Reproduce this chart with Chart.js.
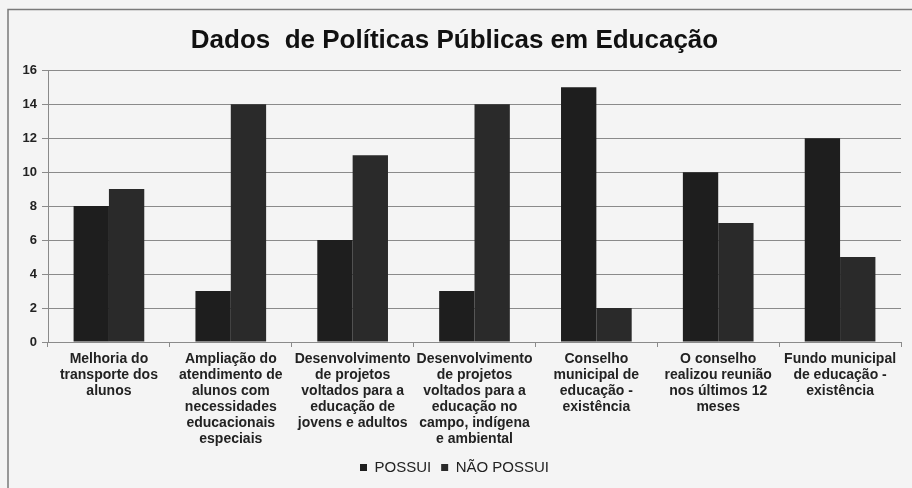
<!DOCTYPE html>
<html>
<head>
<meta charset="utf-8">
<script src="https://cdn.jsdelivr.net/npm/chart.js@4"></script>
<style>
  html, body { margin: 0; padding: 0; background: #f4f4f4; }
  #wrap { width: 912px; height: 488px; }
</style>
</head>
<body>
<div id="wrap"><canvas id="politicasChart" width="912" height="488"></canvas></div>
<script>
// Categorias e valores por série
const categorias = [
    ['Melhoria do', 'transporte dos', 'alunos'],
    ['Ampliação do', 'atendimento de', 'alunos com', 'necessidades', 'educacionais', 'especiais'],
    ['Desenvolvimento', 'de projetos', 'voltados para a', 'educação de', 'jovens e adultos'],
    ['Desenvolvimento', 'de projetos', 'voltados para a', 'educação no', 'campo, indígena', 'e ambiental'],
    ['Conselho', 'municipal de', 'educação -', 'existência'],
    ['O conselho', 'realizou reunião', 'nos últimos 12', 'meses'],
    ['Fundo municipal', 'de educação -', 'existência']
];
const possui = [8, 3, 6, 3, 15, 10, 12];
const naoPossui = [9, 14, 11, 14, 2, 7, 5];
const yTicks = [0, 2, 4, 6, 8, 10, 12, 14, 16];

// Fundo e moldura do gráfico
const moldura = {
    id: 'moldura',
    beforeDraw(chart) {
        const { ctx, width, height } = chart;
        ctx.save();
        ctx.fillStyle = '#f4f4f4';
        ctx.fillRect(0, 0, width, height);
        ctx.strokeStyle = '#7a7a7a';
        ctx.lineWidth = 1.5;
        ctx.beginPath();
        ctx.moveTo(8, height);
        ctx.lineTo(8, 9.5);
        ctx.lineTo(width, 9.5);
        ctx.stroke();
        ctx.restore();
    }
};

const ctx = document.getElementById('politicasChart').getContext('2d');
new Chart(ctx, {
    type: 'bar',
    data: {
        labels: categorias,
        datasets: [
            {
                label: 'POSSUI',
                data: possui,
                backgroundColor: '#1e1e1e',
                borderWidth: 0
            },
            {
                label: 'NÃO POSSUI',
                data: naoPossui,
                backgroundColor: '#2a2a2a',
                borderWidth: 0
            }
        ]
    },
    options: {
        responsive: false,
        animation: false,
        layout: { padding: { left: 8, right: 11, top: 0, bottom: 3 } },
        datasets: {
            bar: { categoryPercentage: 0.58, barPercentage: 1 }
        },
        plugins: {
            title: {
                display: true,
                text: 'Dados  de Políticas Públicas em Educação',
                color: '#111',
                font: { family: 'Liberation Sans, Arial, sans-serif', size: 26, weight: 'bold' },
                padding: { top: 25, bottom: 14 }
            },
            legend: {
                position: 'bottom',
                labels: {
                    color: '#222',
                    boxWidth: 7,
                    boxHeight: 7,
                    padding: 10,
                    font: { family: 'Liberation Sans, Arial, sans-serif', size: 15 }
                }
            },
            tooltip: { enabled: false }
        },
        scales: {
            x: {
                grid: {
                    drawOnChartArea: false,
                    tickLength: 5,
                    color: '#8a8a8a'
                },
                border: { color: '#8a8a8a' },
                ticks: {
                    color: '#222',
                    maxRotation: 0,
                    autoSkip: false,
                    padding: 4,
                    font: { family: 'Liberation Sans, Arial, sans-serif', size: 14, weight: 'bold', lineHeight: 1.15 }
                },
                afterFit(scale) { scale.height = 108; }
            },
            y: {
                min: 0,
                max: 16,
                afterBuildTicks(scale) { scale.ticks = yTicks.map(v => ({ value: v })); },
                grid: {
                    color: '#8a8a8a',
                    tickLength: 6
                },
                border: { color: '#8a8a8a' },
                ticks: {
                    color: '#222',
                    padding: 5,
                    font: { family: 'Liberation Sans, Arial, sans-serif', size: 13, weight: 'bold' }
                },
                afterFit(scale) { scale.width = 40; }
            }
        }
    },
    plugins: [moldura]
});
</script>
</body>
</html>
